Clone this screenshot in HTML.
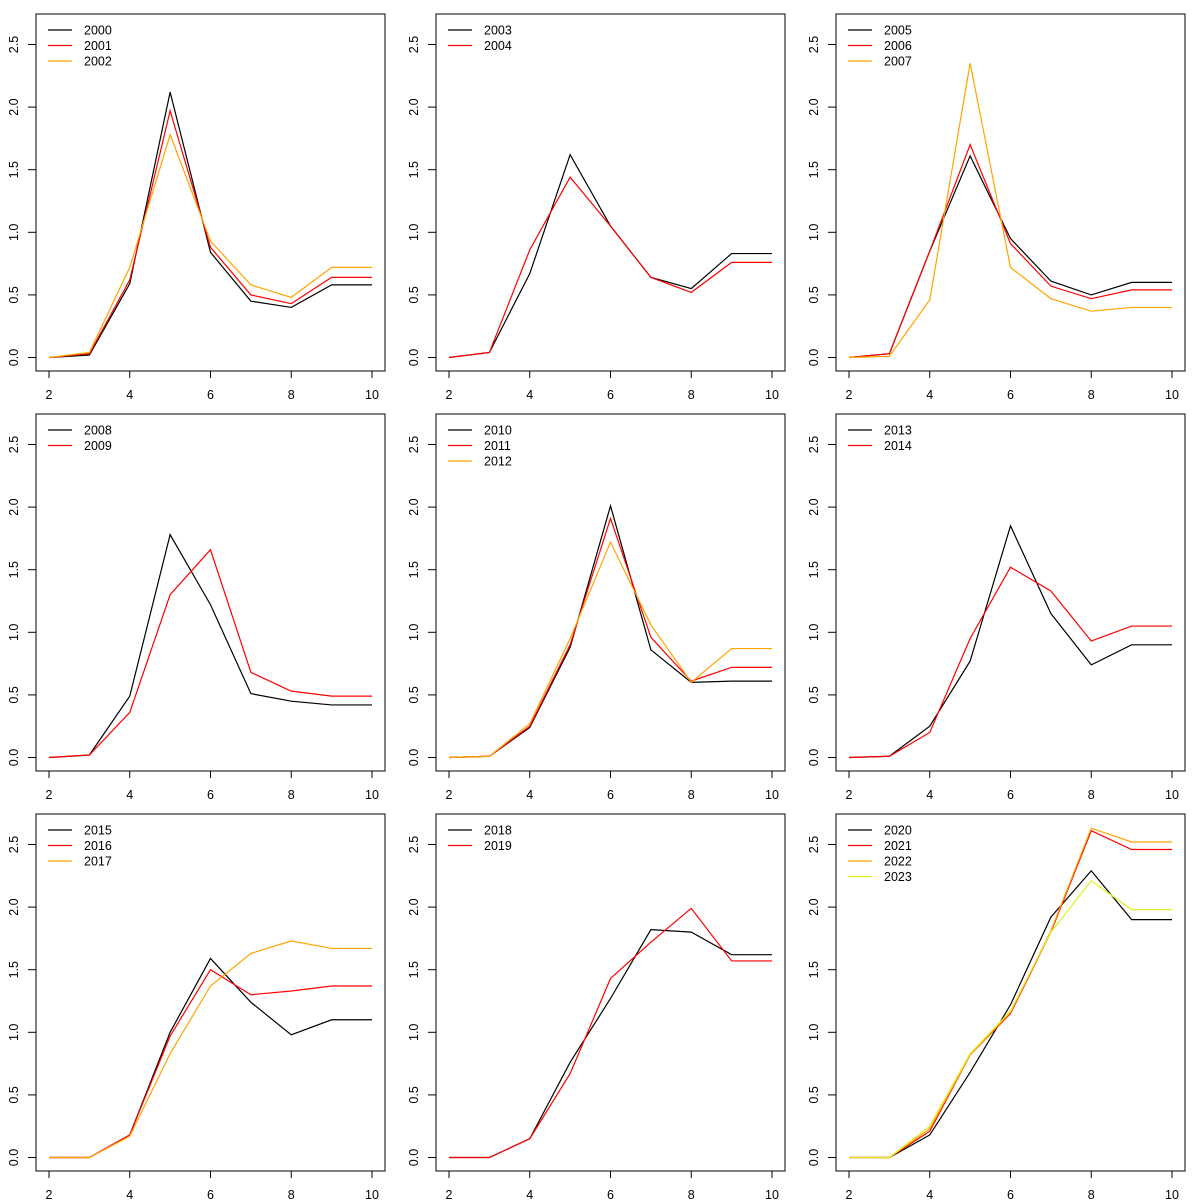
<!DOCTYPE html>
<html><head><meta charset="utf-8"><style>
body{margin:0;background:#fff;}
svg{display:block;font-family:"Liberation Sans",sans-serif;}
</style></head><body>
<svg id="c" width="1200" height="1200"></svg>
<script>
const xCats=[2,3,4,5,6,7,8,9,10];
const xTicks=[2,4,6,8,10];
const yTicks=["0.0","0.5","1.0","1.5","2.0","2.5"];
const colors=["black","red","orange","#e0f020"];
const p1Years=["2000","2001","2002"];
const p1Vals=[[0,0.02,0.59,2.12,0.84,0.45,0.40,0.58,0.58],[0,0.03,0.62,1.97,0.88,0.50,0.43,0.64,0.64],[0,0.04,0.72,1.78,0.93,0.58,0.48,0.72,0.72]];
const p2Years=["2003","2004"];
const p2Vals=[[0,0.04,0.67,1.62,1.05,0.64,0.55,0.83,0.83],[0,0.04,0.86,1.44,1.05,0.64,0.52,0.76,0.76]];
const p3Years=["2005","2006","2007"];
const p3Vals=[[0,0.03,0.85,1.61,0.95,0.61,0.50,0.60,0.60],[0,0.03,0.85,1.70,0.91,0.57,0.47,0.54,0.54],[0,0.01,0.46,2.35,0.72,0.47,0.37,0.40,0.40]];
const p4Years=["2008","2009"];
const p4Vals=[[0,0.02,0.49,1.78,1.22,0.51,0.45,0.42,0.42],[0,0.02,0.36,1.30,1.66,0.68,0.53,0.49,0.49]];
const p5Years=["2010","2011","2012"];
const p5Vals=[[0,0.01,0.24,0.88,2.01,0.86,0.60,0.61,0.61],[0,0.01,0.25,0.90,1.91,0.96,0.61,0.72,0.72],[0,0.01,0.27,0.95,1.72,1.06,0.60,0.87,0.87]];
const p6Years=["2013","2014"];
const p6Vals=[[0,0.01,0.25,0.77,1.85,1.15,0.74,0.90,0.90],[0,0.01,0.20,0.95,1.52,1.33,0.93,1.05,1.05]];
const p7Years=["2015","2016","2017"];
const p7Vals=[[0,0,0.18,1.00,1.59,1.24,0.98,1.10,1.10],[0,0,0.18,0.97,1.50,1.30,1.33,1.37,1.37],[0,0,0.17,0.83,1.37,1.63,1.73,1.67,1.67]];
const p8Years=["2018","2019"];
const p8Vals=[[0,0,0.15,0.76,1.27,1.82,1.80,1.62,1.62],[0,0,0.15,0.67,1.43,1.72,1.99,1.57,1.57]];
const p9Years=["2020","2021","2022","2023"];
const p9Vals=[[0,0,0.18,0.68,1.22,1.92,2.29,1.90,1.90],[0,0,0.21,0.82,1.15,1.80,2.61,2.46,2.46],[0,0,0.23,0.82,1.16,1.81,2.63,2.52,2.52],[0,0,0.25,0.83,1.17,1.80,2.21,1.98,1.98]];
const panels=[[p1Years,p1Vals],[p2Years,p2Vals],[p3Years,p3Vals],[p4Years,p4Vals],[p5Years,p5Vals],[p6Years,p6Vals],[p7Years,p7Vals],[p8Years,p8Vals],[p9Years,p9Vals]];
const NS="http://www.w3.org/2000/svg";
const svg=document.getElementById('c');
function mk(t,a,parent){const e=document.createElementNS(NS,t);for(const k in a)e.setAttribute(k,a[k]);parent.appendChild(e);return e;}
panels.forEach((p,i)=>{
  const ox=(i%3)*400, oy=Math.floor(i/3)*400;
  const sx=v=>ox+49+(v-2)*40.375;
  const sy=v=>oy+357.5-v*125.2;
  const g=mk('g',{},svg);
  
  
  const box=mk('rect',{x:ox+36,y:oy+14,width:349,height:357,fill:'none',stroke:'#000','stroke-width':1},g);
  
  
  xTicks.forEach(t=>{
    const x=sx(t);
    mk('line',{x1:x,x2:x,y1:oy+371,y2:oy+378,stroke:'#000'},g);
    const tx=mk('text',{x:x,y:oy+399,'text-anchor':'middle','font-size':12.5},g);
    tx.textContent=t;
    
    
  });
  yTicks.forEach(t=>{
    const y=sy(parseFloat(t));
    mk('line',{x1:ox+28,x2:ox+36,y1:y,y2:y,stroke:'#000'},g);
    const tx=mk('text',{x:ox+18,y:y,'text-anchor':'middle','font-size':12.5,transform:`rotate(-90 ${ox+18} ${y})`},g);
    tx.textContent=t;
    
    
  });
  p[1].forEach((s,j)=>{
    const pts=s.map((v,k)=>sx(xCats[k])+','+sy(v)).join(' ');
    const pl=mk('polyline',{points:pts,fill:'none',stroke:colors[j],'stroke-width':1.2},g);
    
    
    const ly=oy+30+j*15.5;
    const ll=mk('line',{x1:ox+48,x2:ox+72,y1:ly,y2:ly,stroke:colors[j],'stroke-width':1.2},g);
    
    
    const lt=mk('text',{x:ox+84,y:ly+4.5,'font-size':12.5},g);
    lt.textContent=p[0][j];
    
    
  });
});
</script>
</body></html>
